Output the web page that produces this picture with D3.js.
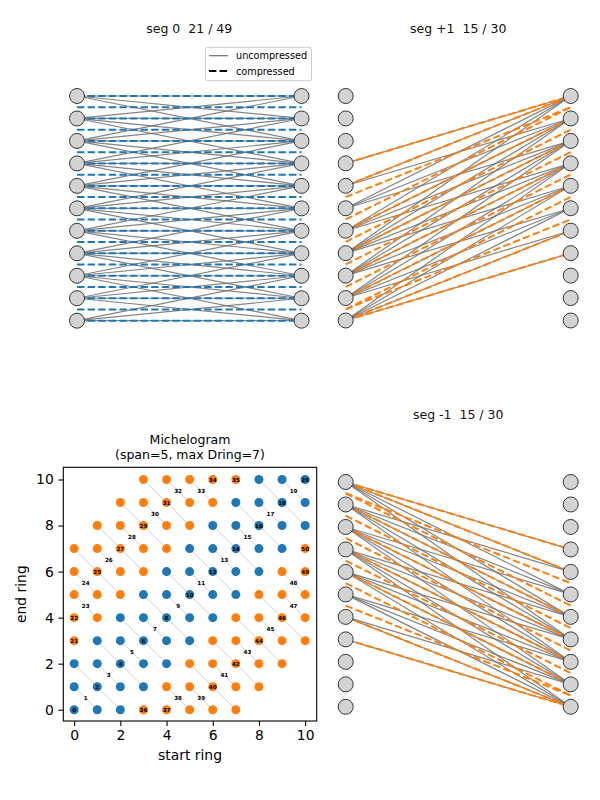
<!DOCTYPE html>
<html>
<head>
<meta charset="utf-8">
<script src="https://cdn.jsdelivr.net/npm/d3@7/dist/d3.min.js"></script>
<style>
  body { margin: 0; background: #fff; }
  text { font-family: "DejaVu Sans", sans-serif; }
</style>
</head>
<body>
<div id="chart"></div>
<script>
// ring numbers of the scanner (start ring / end ring)
const rings = [0, 1, 2, 3, 4, 5, 6, 7, 8, 9, 10];

// segments: ring difference (end - start) range for each one
const segNames = ['0', '+1', '-1'];
const segMinDiff = [-2, 3, -7];
const segMaxDiff = [2, 7, -3];
const segColors = ['#1f77b4', '#ff7f0e', '#ff7f0e'];

const span = 5;
const maxDring = 7;

const xTicks = [0, 2, 4, 6, 8, 10];
const yTicks = [0, 2, 4, 6, 8, 10];

const width = 600;
const height = 800;

let svg = d3.select('#chart')
  .append('svg')
  .attr('width', width)
  .attr('height', height);

// build the sinograms: every segment, pairs with same start+end go to one sinogram
let sinograms = [];
let pairCounts = [];
let nextId = 0;
for (let k = 0; k < segNames.length; k++) {
  let pairs = [];
  rings.forEach(a => rings.forEach(b => {
    let d = b - a;
    if (d >= segMinDiff[k] && d <= segMaxDiff[k]) pairs.push([a, b]);
  }));
  pairCounts.push(pairs.length);
  let sums = Array.from(new Set(pairs.map(p => p[0] + p[1]))).sort((u, v) => u - v);
  sums.forEach(s => {
    let members = pairs.filter(p => p[0] + p[1] === s).sort((u, v) => u[0] - v[0]);
    sinograms.push({
      id: nextId++,
      seg: k,
      members: members,
      meanA: d3.mean(members, p => p[0]),
      meanB: d3.mean(members, p => p[1])
    });
  });
}

// ---------- ring-pair panels ----------
const panels = [
  { seg: 0, left: 77, right: 301.5, top: 96, bottom: 320.7, titleY: 33.2 },
  { seg: 1, left: 345.7, right: 570.7, top: 96, bottom: 320.5, titleY: 33.2 },
  { seg: 2, left: 345.7, right: 570.7, top: 482, bottom: 706.8, titleY: 418.5 }
];

const dash = '7.4,3.2';
const grayLine = '#6e6e6e';

panels.forEach(pn => {
  let k = pn.seg;
  let xScale = d3.scaleLinear().domain([0, 1]).range([pn.left, pn.right]);
  let yScale = d3.scaleLinear().domain([0, 10]).range([pn.bottom, pn.top]);
  let g = svg.append('g');
  let sinos = sinograms.filter(s => s.seg === k);

  // uncompressed lines, one per ring pair
  let pairs = sinos.flatMap(s => s.members);
  g.append('g')
    .selectAll('line')
    .data(pairs)
    .join('line')
    .attr('x1', xScale(0))
    .attr('x2', xScale(1))
    .attr('y1', p => yScale(p[0]))
    .attr('y2', p => yScale(p[1]))
    .attr('stroke', grayLine)
    .attr('stroke-opacity', 0.85)
    .attr('stroke-width', 1.2);

  // compressed lines at the mean ring positions
  g.append('g')
    .selectAll('line')
    .data(sinos)
    .join('line')
    .attr('x1', xScale(0))
    .attr('x2', xScale(1))
    .attr('y1', s => yScale(s.meanA))
    .attr('y2', s => yScale(s.meanB))
    .attr('stroke', segColors[k])
    .attr('stroke-width', 2)
    .attr('stroke-dasharray', dash);

  // ring nodes
  [0, 1].forEach(side => {
    g.append('g')
      .selectAll('circle')
      .data(rings)
      .join('circle')
      .attr('cx', xScale(side))
      .attr('cy', r => yScale(r))
      .attr('r', 7.5)
      .attr('fill', '#d3d3d3')
      .attr('stroke', '#333')
      .attr('stroke-width', 1);
  });

  svg.append('text')
    .attr('x', (pn.left + pn.right) / 2)
    .attr('y', pn.titleY)
    .attr('text-anchor', 'middle')
    .style('font-size', '12.5px')
    .style('white-space', 'pre')
    .attr('fill', '#111')
    .text(`seg ${segNames[k]}  ${sinos.length} / ${pairCounts[k]}`);
});

// legend in the seg 0 panel
let legend = svg.append('g');
legend.append('rect')
  .attr('x', 205.5).attr('y', 47.3)
  .attr('width', 106).attr('height', 33.4)
  .attr('rx', 2.5)
  .attr('fill', 'white').attr('fill-opacity', 0.8)
  .attr('stroke', '#cccccc').attr('stroke-width', 1);
legend.append('line')
  .attr('x1', 209).attr('x2', 228).attr('y1', 55.7).attr('y2', 55.7)
  .attr('stroke', grayLine).attr('stroke-width', 1.2);
legend.append('line')
  .attr('x1', 209).attr('x2', 228).attr('y1', 71).attr('y2', 71)
  .attr('stroke', 'black').attr('stroke-width', 2).attr('stroke-dasharray', dash);
legend.append('text').attr('x', 236).attr('y', 59.2).style('font-size', '9.7px').text('uncompressed');
legend.append('text').attr('x', 236).attr('y', 74.5).style('font-size', '9.7px').text('compressed');

// ---------- michelogram ----------
const mLeft = 63.3, mRight = 316.7, mTop = 467.3, mBottom = 721;

let mx = d3.scaleLinear().domain([-0.47, 10.5]).range([mLeft, mRight]);
let my = d3.scaleLinear().domain([-0.49, 10.53]).range([mBottom, mTop]);

let mich = svg.append('g');

// light lines joining the ring pairs of one sinogram
mich.append('g')
  .selectAll('line')
  .data(sinograms.filter(s => s.members.length > 1))
  .join('line')
  .attr('x1', s => mx(s.members[0][0]))
  .attr('y1', s => my(s.members[0][1]))
  .attr('x2', s => mx(s.members[s.members.length - 1][0]))
  .attr('y2', s => my(s.members[s.members.length - 1][1]))
  .attr('stroke', '#c4c4c4')
  .attr('stroke-width', 0.8);

// dots: one per ring pair, colored by segment
let dots = sinograms.flatMap(s => s.members.map(p => ({ a: p[0], b: p[1], seg: s.seg })));
mich.append('g')
  .selectAll('circle')
  .data(dots)
  .join('circle')
  .attr('cx', d => mx(d.a))
  .attr('cy', d => my(d.b))
  .attr('r', 4.5)
  .attr('fill', d => segColors[d.seg]);

// sinogram numbers at the mean position
mich.append('g')
  .selectAll('text')
  .data(sinograms)
  .join('text')
  .attr('x', s => mx(s.meanA))
  .attr('y', s => my(s.meanB))
  .attr('dy', '0.36em')
  .attr('text-anchor', 'middle')
  .style('font-size', '5.6px')
  .style('font-weight', 'bold')
  .text(s => s.id);

// axes
let xAxis = mich.append('g')
  .attr('transform', `translate(0,${mBottom})`)
  .call(d3.axisBottom(mx).tickValues(xTicks).tickSize(4.9).tickPadding(4.6));
let yAxis = mich.append('g')
  .attr('transform', `translate(${mLeft},0)`)
  .call(d3.axisLeft(my).tickValues(yTicks).tickSize(4.9).tickPadding(4.6));
[xAxis, yAxis].forEach(ax => {
  ax.select('.domain').remove();
  ax.selectAll('line').attr('stroke', '#000').attr('stroke-width', 1.1);
  ax.selectAll('text')
    .style('font-size', '13.9px')
    .style('font-family', '"DejaVu Sans", sans-serif')
    .attr('fill', '#000');
});

mich.append('rect')
  .attr('x', mLeft).attr('y', mTop)
  .attr('width', mRight - mLeft).attr('height', mBottom - mTop)
  .attr('fill', 'none')
  .attr('stroke', '#000')
  .attr('stroke-width', 1.1);

mich.append('text')
  .attr('x', (mLeft + mRight) / 2).attr('y', 760)
  .attr('text-anchor', 'middle')
  .style('font-size', '13.9px')
  .text('start ring');
mich.append('text')
  .attr('transform', `translate(25.6,${(mTop + mBottom) / 2}) rotate(-90)`)
  .attr('text-anchor', 'middle')
  .style('font-size', '13.9px')
  .text('end ring');

mich.append('text')
  .attr('x', (mLeft + mRight) / 2).attr('y', 444)
  .attr('text-anchor', 'middle')
  .style('font-size', '12.5px')
  .text('Michelogram');
mich.append('text')
  .attr('x', (mLeft + mRight) / 2).attr('y', 458.5)
  .attr('text-anchor', 'middle')
  .style('font-size', '12.5px')
  .text(`(span=${span}, max Dring=${maxDring})`);
</script>
</body>
</html>
